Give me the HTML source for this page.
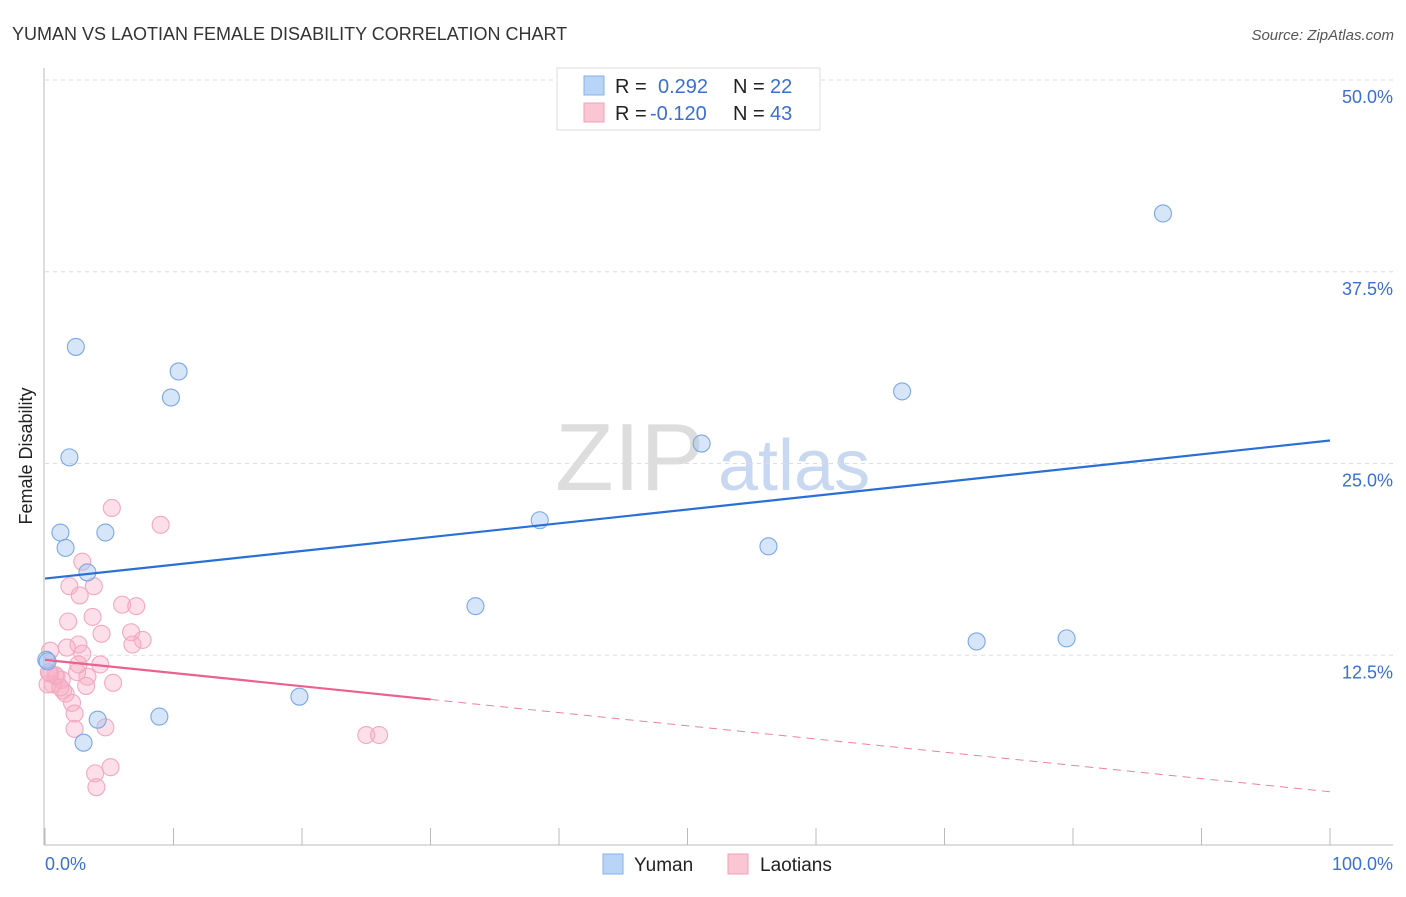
<!DOCTYPE html>
<html><head><meta charset="utf-8"><style>
body{margin:0;background:#fff;font-family:"Liberation Sans",sans-serif}
svg text{font-family:"Liberation Sans",sans-serif}
</style></head><body>
<svg id="c" width="1406" height="892">
<text x="12" y="40" font-size="18" fill="#333">YUMAN VS LAOTIAN FEMALE DISABILITY CORRELATION CHART</text>
<text x="1394" y="40" font-size="15" fill="#555" font-style="italic" text-anchor="end">Source: ZipAtlas.com</text>
<text x="32" y="456" font-size="18" fill="#222" text-anchor="middle" transform="rotate(-90 32 456)">Female Disability</text>
<g><text x="555" y="490" font-size="96" fill="#ddd" font-family="Liberation Serif">ZIP</text><text x="718" y="490" font-size="72" fill="#c8d8f0">atlas</text></g>
<g id="grid"></g><g id="pts"></g><g id="lines"></g>
<g>
<rect x="557" y="68" width="263" height="62" fill="#fff" stroke="#ddd"/>
<rect x="584" y="76" width="20" height="19" fill="#b8d4f6" stroke="#86b0e8"/>
<rect x="584" y="103" width="20" height="19" fill="#fac6d4" stroke="#f0a0b8"/>
<text x="615" y="93" font-size="20" fill="#222">R = <tspan fill="#3a6fd0" x="658">0.292</tspan><tspan x="733">N = </tspan><tspan fill="#3a6fd0" x="770">22</tspan></text>
<text x="615" y="120" font-size="20" fill="#222">R = <tspan fill="#3a6fd0" x="650">-0.120</tspan><tspan x="733">N = </tspan><tspan fill="#3a6fd0" x="770">43</tspan></text>
</g>
<g>
<rect x="603" y="854" width="20" height="20" fill="#b8d4f6" stroke="#86b0e8"/>
<text x="634" y="871" font-size="19" fill="#222">Yuman</text>
<rect x="728" y="854" width="20" height="20" fill="#fac6d4" stroke="#f0a0b8"/>
<text x="760" y="871" font-size="19" fill="#222">Laotians</text>
</g>
<text x="45" y="870" font-size="18" fill="#3a6fd0">0.0%</text>
<text x="1393" y="870" font-size="18" fill="#3a6fd0" text-anchor="end">100.0%</text>
</svg>
<script>
const yTicks=[12.5,25,37.5,50];
const yTickLabels=["12.5%","25.0%","37.5%","50.0%"];
const xTicks=[0,10,20,30,40,50,60,70,80,90,100];
const yumanX=[0.1,1.2,1.6,1.9,2.4,3.3,4.1,4.7,3.0,8.9,9.8,10.4,19.8,33.5,38.5,51.1,56.3,66.7,72.5,79.5,87.0,0.2];
const yumanY=[12.2,20.5,19.5,25.4,32.6,17.9,8.3,20.5,6.8,8.5,29.3,31.0,9.8,15.7,21.3,26.3,19.6,29.7,13.4,13.6,41.3,12.1];
const laoX=[5.2,9.0,2.9,1.9,2.7,3.8,6.0,7.1,1.8,3.7,4.4,6.7,7.6,6.8,2.6,1.7,2.9,4.3,3.3,3.2,5.3,0.4,0.9,1.3,0.6,1.4,1.6,2.1,2.3,2.3,4.7,5.1,3.9,4.0,2.5,2.6,0.4,0.2,25.0,26.0,0.8,1.2,0.3];
const laoY=[22.1,21.0,18.6,17.0,16.4,17.0,15.8,15.7,14.7,15.0,13.9,14.0,13.5,13.2,13.2,13.0,12.6,11.9,11.1,10.5,10.7,12.8,11.1,10.9,10.6,10.2,10.0,9.4,8.7,7.7,7.8,5.2,4.8,3.9,11.4,11.9,11.3,10.6,7.3,7.3,11.2,10.4,11.4];
const trendYuman=[17.5,26.5];
const trendLao=[12.2,3.6];
const ns="http://www.w3.org/2000/svg";
const X=v=>45+v*12.85, Y=v=>847-v*15.34;
function mk(tag,at,parent){const e=document.createElementNS(ns,tag);for(const k in at)e.setAttribute(k,at[k]);parent.appendChild(e);return e;}
const grid=document.getElementById('grid'),pts=document.getElementById('pts'),lines=document.getElementById('lines'),svg=document.getElementById('c');
yTicks.forEach((t,i)=>{const l=mk('line',{x1:45,x2:1393,y1:Y(t),y2:Y(t),stroke:'#ddd','stroke-dasharray':'4,4'},grid);


const tx=mk('text',{x:1393,y:Y(t)+23,'font-size':18,fill:'#3a6fd0','text-anchor':'end'},svg);tx.textContent=yTickLabels[i];

});
const ax=mk('line',{x1:44,x2:44,y1:68,y2:845,stroke:'#bbb'},grid);


const bx=mk('line',{x1:44,x2:1393,y1:845,y2:845,stroke:'#bbb'},grid);


xTicks.forEach(t=>{const l=mk('line',{x1:X(t),x2:X(t),y1:828,y2:845,stroke:'#bbb'},grid);

});
laoX.forEach((v,i)=>{const c=mk('circle',{cx:X(v),cy:Y(laoY[i]),r:8.5,fill:'rgba(248,175,198,0.4)',stroke:'#f2a8c0','stroke-width':1.1},pts);

});
yumanX.forEach((v,i)=>{const c=mk('circle',{cx:X(v),cy:Y(yumanY[i]),r:8.5,fill:'rgba(165,198,240,0.45)',stroke:'#7aa8e4','stroke-width':1.1},pts);

});
const ly=mk('line',{x1:X(0),y1:Y(trendYuman[0]),x2:X(100),y2:Y(trendYuman[1]),stroke:'#2a6fd6','stroke-width':2.2},lines);


const lm=v=>trendLao[0]+(trendLao[1]-trendLao[0])*v/100;
const lp=mk('line',{x1:X(0),y1:Y(lm(0)),x2:X(30),y2:Y(lm(30)),stroke:'#ec6090','stroke-width':2.2},lines);


const ld=mk('line',{x1:X(30),y1:Y(lm(30)),x2:X(100),y2:Y(lm(100)),stroke:'#ec80a0','stroke-width':1,'stroke-dasharray':'8,6'},lines);


</script>
</body></html>
